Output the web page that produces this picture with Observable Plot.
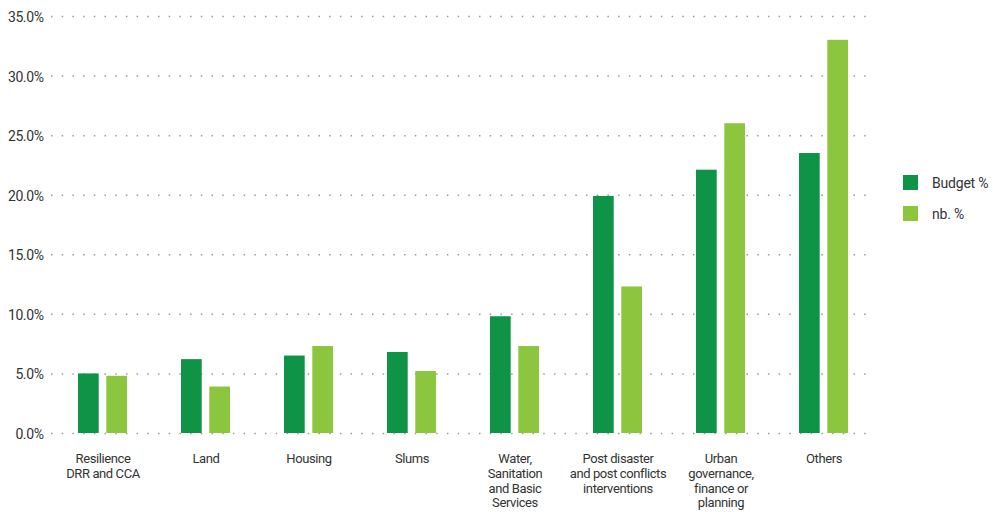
<!DOCTYPE html>
<html>
<head>
<meta charset="utf-8">
<script src="https://cdn.jsdelivr.net/npm/d3@7"></script>
<script src="https://cdn.jsdelivr.net/npm/@observablehq/plot@0.6"></script>
<style>
  html, body { margin: 0; padding: 0; background: #fff; }
  #wrap { position: relative; width: 993px; height: 512px; font-family: Roboto, sans-serif; }
  #wrap svg text { letter-spacing: -0.4px; }
  #legend { position: absolute; left: 903px; top: 175px; font-size: 14px; color: #333; letter-spacing: -0.2px; }
  .item { display: flex; align-items: center; height: 15px; margin-bottom: 16px; }
  .sw { width: 15px; height: 15px; margin-right: 14px; }
</style>
</head>
<body>
<div id="wrap"><div id="legend"></div></div>
<script>
const categories = [
  "Resilience\nDRR and CCA",
  "Land",
  "Housing",
  "Slums",
  "Water,\nSanitation\nand Basic\nServices",
  "Post disaster\nand post conflicts\ninterventions",
  "Urban\ngovernance,\nfinance or\nplanning",
  "Others"
];
const budgetPct = [5.0, 6.2, 6.5, 6.8, 9.8, 19.9, 22.1, 23.5];
const nbPct = [4.8, 3.9, 7.3, 5.2, 7.3, 12.3, 26.0, 33.0];
const yTicks = [0, 5, 10, 15, 20, 25, 30, 35];
const seriesNames = ["Budget %", "nb. %"];
const seriesColors = ["#0f9346", "#8cc63f"];

const chart = Plot.plot({
  width: 993,
  height: 512,
  marginTop: 16,
  marginBottom: 79,
  marginLeft: 48,
  marginRight: 123,
  style: {fontFamily: "Roboto, sans-serif", fontSize: "13px", color: "#333", background: "transparent"},
  x: {type: "band", domain: categories, range: [51, 875], paddingInner: 0.524, paddingOuter: 0.262},
  y: {domain: [0, 35]},
  marks: [
    Plot.ruleY(yTicks, {stroke: "#999", strokeWidth: 1.5, strokeDasharray: "1.5,9.2", strokeDashoffset: -3}),
    Plot.barY(categories, {x: d => d, y: (d, i) => budgetPct[i], fill: seriesColors[0], insetRight: 28.3, insetLeft: 0}),
    Plot.barY(categories, {x: d => d, y: (d, i) => nbPct[i], fill: seriesColors[1], insetLeft: 28.3, insetRight: 0}),
    Plot.axisY({ticks: yTicks, tickFormat: d => d.toFixed(1) + "%", tickSize: 0, tickPadding: 5, dy: 1, label: null, fontSize: 14, fill: "#333"}),
    Plot.axisX({tickSize: 0, tickPadding: 18.5, label: null, lineAnchor: "top", lineHeight: 1.15, fontSize: 13, fill: "#333"})
  ]
});
document.getElementById("wrap").prepend(chart);

const legend = document.getElementById("legend");
seriesNames.forEach((n, i) => {
  const it = document.createElement("div");
  it.className = "item";
  it.innerHTML = `<span class="sw" style="background:${seriesColors[i]}"></span><span>${n}</span>`;
  legend.appendChild(it);
});
</script>
</body>
</html>
